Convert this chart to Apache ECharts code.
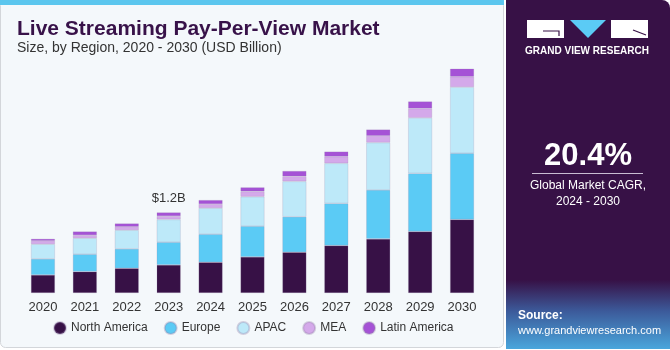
<!DOCTYPE html>
<html>
<head>
<meta charset="utf-8">
<script src="https://cdn.jsdelivr.net/npm/echarts@6/dist/echarts.min.js"></script>
<style>
  html, body { margin: 0; padding: 0; background: #ffffff; }
  #main { width: 670px; height: 350px; }
</style>
</head>
<body>
<div id="main"></div>
<script>
// years on the x axis
const years = ["2020", "2021", "2022", "2023", "2024", "2025", "2026", "2027", "2028", "2029", "2030"];

// USD billion
const northAmerica = [0.27, 0.32, 0.37, 0.42, 0.46, 0.54, 0.61, 0.71, 0.81, 0.92, 1.10];
const europe = [0.24, 0.26, 0.29, 0.34, 0.42, 0.46, 0.53, 0.63, 0.73, 0.87, 0.99];
const apac = [0.22, 0.24, 0.28, 0.34, 0.39, 0.44, 0.53, 0.60, 0.71, 0.83, 0.99];
const mea = [0.05, 0.045, 0.05, 0.05, 0.06, 0.08, 0.075, 0.10, 0.10, 0.14, 0.155];
const latinAmerica = [0.03, 0.055, 0.05, 0.055, 0.06, 0.06, 0.08, 0.075, 0.095, 0.105, 0.12];

const calloutIndex = 3; // 2023
const calloutText = "$1.2B";

const colors = {
  na: "#371146",
  eu: "#5bcbf5",
  apac: "#bde9f9",
  mea: "#d4a9ea",
  la: "#a552d6"
};

const chart = echarts.init(document.getElementById("main"));

const makeSeries = (name, data, color) => ({
  name: name,
  type: "bar",
  stack: "total",
  barWidth: 24,
  data: data,
  itemStyle: { color: color, borderColor: "rgba(150,130,170,0.35)", borderWidth: 0.6 },
  emphasis: { disabled: true }
});

const laSeries = makeSeries("Latin America", latinAmerica.map((v, i) => {
  if (i !== calloutIndex) return v;
  return {
    value: v,
    label: {
      show: true,
      position: "top",
      distance: 8,
      formatter: calloutText,
      color: "#333333",
      fontSize: 13,
      fontFamily: "Liberation Sans"
    }
  };
}), colors.la);

const option = {
  backgroundColor: "#ffffff",
  animation: false,
  textStyle: { fontFamily: "Liberation Sans" },
  grid: { left: 22, right: 187, top: 59, bottom: 57, containLabel: false },
  xAxis: {
    type: "category",
    data: years,
    axisLine: { show: false },
    axisTick: { show: false },
    axisLabel: { color: "#333333", fontSize: 13, margin: 8 }
  },
  yAxis: {
    type: "value",
    min: 0,
    max: 3.5,
    show: false,
    splitLine: { show: false }
  },
  legend: {
    bottom: 10,
    left: 48,
    itemGap: 16,
    icon: "circle",
    itemWidth: 12,
    itemHeight: 12,
    textStyle: { color: "#333333", fontSize: 12 },
    data: ["North America", "Europe", "APAC", "MEA", "Latin America"]
  },
  graphic: [
    // left panel
    { type: "rect", z: -10, shape: { x: 0.5, y: 0.5, width: 503, height: 347, r: 5 },
      style: { fill: "#f4f8fb", stroke: "#d3d6da", lineWidth: 1 } },
    { type: "rect", z: -9, shape: { x: 0, y: 0, width: 504, height: 5 }, style: { fill: "#5bc6ee" } },
    // right panel
    { type: "rect", z: -10, shape: { x: 506, y: 0, width: 164, height: 349, r: [0, 8, 0, 0] },
      style: { fill: "#371146" } },
    { type: "rect", z: -9, shape: { x: 506, y: 280, width: 164, height: 69 },
      style: { fill: new echarts.graphic.LinearGradient(0, 0, 0, 1, [
        { offset: 0, color: "#371146" },
        { offset: 0.45, color: "#3c5a9a" },
        { offset: 1, color: "#4aa6dc" }
      ]) } },
    // logo
    { type: "rect", shape: { x: 527, y: 20, width: 37, height: 18 }, style: { fill: "#ffffff" } },
    { type: "polyline", shape: { points: [[543, 31], [559, 31], [559, 36]] }, style: { stroke: "#371146", lineWidth: 1.2, fill: null } },
    { type: "polygon", shape: { points: [[570, 20], [606, 20], [588, 38]] }, style: { fill: "#5bcbf5" } },
    { type: "rect", shape: { x: 611, y: 20, width: 37, height: 18 }, style: { fill: "#ffffff" } },
    { type: "polyline", shape: { points: [[633, 30], [646, 35]] }, style: { stroke: "#371146", lineWidth: 1.2, fill: null } },
    { type: "text", style: { x: 587, y: 51, text: "GRAND VIEW RESEARCH", fill: "#ffffff", font: "bold 10px Liberation Sans", align: "center", verticalAlign: "middle" } },
    // CAGR
    { type: "text", style: { x: 588, y: 156, text: "20.4%", fill: "#ffffff", font: "bold 31px Liberation Sans", align: "center", verticalAlign: "middle" } },
    { type: "line", shape: { x1: 532, y1: 173.5, x2: 643, y2: 173.5 }, style: { stroke: "#c8bcd2", lineWidth: 1 } },
    { type: "text", style: { x: 588, y: 186, text: "Global Market CAGR,", fill: "#ffffff", font: "12px Liberation Sans", align: "center", verticalAlign: "middle" } },
    { type: "text", style: { x: 588, y: 202, text: "2024 - 2030", fill: "#ffffff", font: "12px Liberation Sans", align: "center", verticalAlign: "middle" } },
    // source
    { type: "text", style: { x: 518, y: 316, text: "Source:", fill: "#ffffff", font: "bold 12px Liberation Sans", verticalAlign: "middle" } },
    { type: "text", style: { x: 518, y: 331, text: "www.grandviewresearch.com", fill: "#ffffff", font: "11px Liberation Sans", verticalAlign: "middle" } },
    // titles
    { type: "text", style: { x: 17, y: 29, text: "Live Streaming Pay-Per-View Market", fill: "#381249", font: "bold 21px Liberation Sans", verticalAlign: "middle" } },
    { type: "text", style: { x: 17, y: 48, text: "Size, by Region, 2020 - 2030 (USD Billion)", fill: "#333333", font: "14px Liberation Sans", verticalAlign: "middle" } }
  ],
  series: [
    makeSeries("North America", northAmerica, colors.na),
    makeSeries("Europe", europe, colors.eu),
    makeSeries("APAC", apac, colors.apac),
    makeSeries("MEA", mea, colors.mea),
    laSeries
  ]
};

chart.setOption(option);
</script>
</body>
</html>
